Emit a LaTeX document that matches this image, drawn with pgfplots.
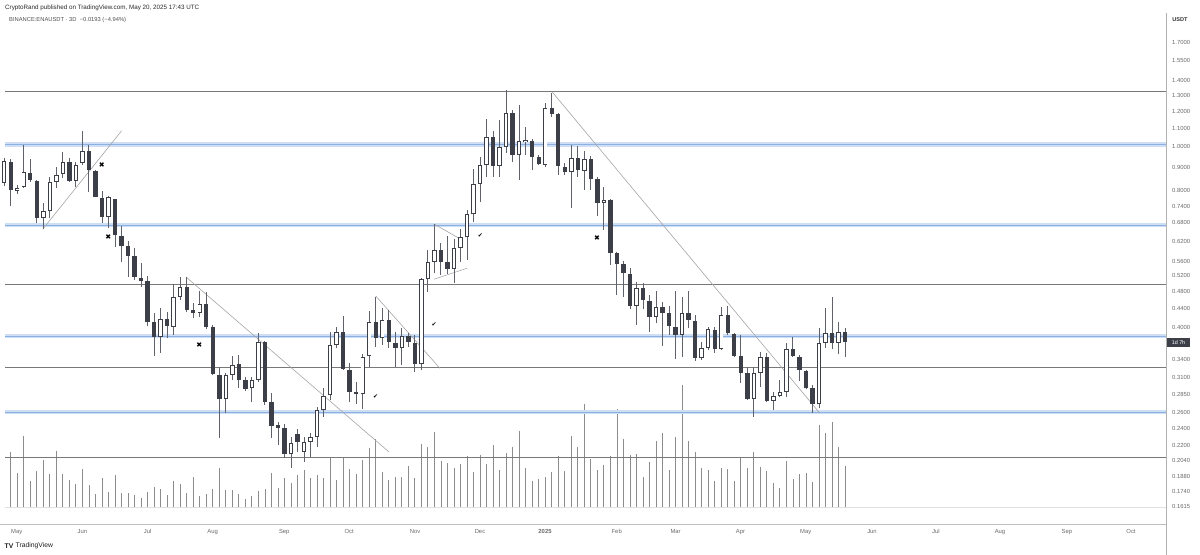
\documentclass[border=0pt]{standalone}
\usepackage{pgfplots}
\pgfplotsset{compat=1.18}
\usepackage{pgfplotstable}
\usepackage{fontspec}
\setmainfont{Liberation Sans}
\newfontfamily\sym{DejaVu Sans}
\definecolor{cdark}{RGB}{60,63,72}
\definecolor{cwick}{RGB}{95,98,106}
\definecolor{cvol}{RGB}{140,140,140}
\definecolor{cband}{RGB}{206,223,245}
\definecolor{ccore}{RGB}{140,176,226}
\definecolor{clevel}{RGB}{120,120,120}
\definecolor{ctrend}{RGB}{165,165,165}
\definecolor{ctick}{RGB}{105,105,105}

% bullish candles: day open high low close
\pgfplotstableread{
d o h l c
-5 0.8330 0.9457 0.8204 0.9314
1 0.7998 0.8246 0.7878 0.8134
4 0.8175 1.0102 0.8121 0.8808
13 0.6974 0.7537 0.6596 0.7226
16 0.7237 0.8601 0.6974 0.8373
19 0.8386 0.9049 0.8121 0.8675
22 0.8719 0.9735 0.8544 0.9253
28 0.8415 0.9281 0.8175 0.9127
31 0.9206 1.0862 0.9127 0.9814
43 0.7020 0.7798 0.6640 0.7747
67 0.3806 0.4416 0.3520 0.4170
73 0.4016 0.4989 0.3851 0.4670
76 0.4678 0.5162 0.4600 0.4907
85 0.4313 0.4822 0.4225 0.4508
97 0.2783 0.3171 0.2588 0.3143
100 0.3143 0.3461 0.3064 0.3306
109 0.2937 0.3107 0.2744 0.3064
112 0.3064 0.3884 0.3038 0.3722
127 0.2105 0.2298 0.1958 0.2223
133 0.2130 0.2291 0.2025 0.2241
136 0.2241 0.2346 0.2076 0.2291
139 0.2298 0.2676 0.2184 0.2632
142 0.2632 0.2937 0.2544 0.2826
145 0.2840 0.3916 0.2768 0.3660
148 0.3660 0.4004 0.3599 0.3904
160 0.2849 0.3496 0.2641 0.3449
163 0.3461 0.4357 0.3268 0.4119
169 0.3787 0.4410 0.3660 0.4155
178 0.3599 0.3984 0.3306 0.3832
187 0.3319 0.5135 0.3224 0.5109
190 0.5109 0.5929 0.4783 0.5587
193 0.5587 0.6765 0.5267 0.5929
202 0.5384 0.6260 0.5007 0.5980
205 0.5980 0.6586 0.5587 0.6343
208 0.6343 0.7263 0.5635 0.7117
211 0.7106 0.8930 0.6845 0.8288
214 0.8288 0.9520 0.7576 0.9127
217 0.9127 1.1510 0.8601 1.0537
223 0.9081 1.1469 0.8601 0.9985
226 0.9985 1.3356 0.9686 1.1866
232 0.9602 1.2376 0.8458 1.0325
235 1.0273 1.1086 0.9602 1.0362
244 0.9127 1.2523 0.9021 1.2171
256 0.8822 1.0102 0.7326 0.9443
262 0.8866 0.9814 0.8039 0.9395
271 0.7537 0.8175 0.6562 0.7641
286 0.4461 0.5047 0.4051 0.4882
295 0.4225 0.4822 0.4086 0.4432
307 0.3851 0.4678 0.3449 0.4299
316 0.3421 0.3722 0.3392 0.3599
319 0.3599 0.4004 0.3568 0.3964
325 0.3581 0.4432 0.3568 0.4262
340 0.2783 0.3278 0.2536 0.3180
343 0.3180 0.3537 0.2961 0.3439
349 0.2758 0.2887 0.2632 0.2826
352 0.2826 0.3064 0.2807 0.2887
355 0.2887 0.3692 0.2816 0.3581
370 0.2712 0.3984 0.2654 0.3692
373 0.3703 0.4410 0.3599 0.3884
379 0.3703 0.4107 0.3496 0.3906
}\bull

% bearish candles: day open high low close
\pgfplotstableread{
d o h l c
-2 0.9281 0.9409 0.7412 0.8039
7 0.8777 0.9409 0.8373 0.8458
10 0.8428 0.8458 0.6800 0.6974
25 0.9253 0.9457 0.8386 0.8415
34 0.9814 1.0102 0.7970 0.8898
37 0.8866 0.8898 0.7747 0.7771
40 0.7731 0.8011 0.6810 0.7020
46 0.7692 0.7692 0.6029 0.6398
49 0.6375 0.6697 0.5587 0.6050
52 0.6050 0.6215 0.5177 0.5760
55 0.5751 0.5989 0.5091 0.5177
58 0.5151 0.5550 0.4921 0.5073
61 0.5073 0.5196 0.4030 0.4107
64 0.4107 0.4306 0.3461 0.3806
70 0.4170 0.4335 0.3787 0.4037
79 0.4907 0.5177 0.4335 0.4372
82 0.4372 0.4524 0.4191 0.4313
88 0.4508 0.4783 0.3964 0.4016
91 0.4016 0.4051 0.3143 0.3159
94 0.3143 0.3278 0.2280 0.2783
103 0.3319 0.3479 0.2937 0.3064
106 0.3064 0.3107 0.2902 0.2927
115 0.3722 0.3735 0.2699 0.2744
118 0.2744 0.2872 0.2280 0.2430
121 0.2439 0.2480 0.2203 0.2399
124 0.2399 0.2451 0.2059 0.2105
130 0.2330 0.2386 0.2130 0.2241
151 0.3904 0.4240 0.3224 0.3235
154 0.3224 0.3346 0.2744 0.2887
157 0.2883 0.3038 0.2712 0.2849
166 0.4119 0.4678 0.3629 0.3787
172 0.4155 0.4372 0.3599 0.3722
175 0.3703 0.3916 0.3278 0.3610
181 0.3832 0.3884 0.3629 0.3722
184 0.3703 0.3851 0.3196 0.3319
196 0.5929 0.6134 0.5222 0.5587
199 0.5570 0.6366 0.5248 0.5384
220 1.0537 1.0862 0.8601 0.9081
229 1.1866 1.2066 0.9281 0.9602
238 1.0325 1.0399 0.8898 0.9520
241 0.9520 0.9602 0.9127 0.9159
247 1.2171 1.3134 1.1663 1.1806
250 1.1806 1.1866 0.8675 0.9081
253 0.9049 0.9206 0.8675 0.8822
259 0.9443 1.0051 0.8601 0.8898
265 0.9395 0.9553 0.8039 0.8488
268 0.8488 0.8601 0.7045 0.7537
274 0.7641 0.7669 0.5494 0.5831
277 0.5831 0.5878 0.4718 0.5522
280 0.5522 0.5615 0.4678 0.5267
283 0.5248 0.5403 0.4387 0.4461
289 0.4882 0.5007 0.4387 0.4600
292 0.4584 0.4718 0.3904 0.4225
298 0.4432 0.4561 0.3641 0.4313
301 0.4299 0.4461 0.3851 0.4030
304 0.4016 0.4822 0.3404 0.3851
310 0.4299 0.4822 0.3984 0.4155
313 0.4140 0.4262 0.3380 0.3421
322 0.3950 0.4004 0.3520 0.3581
328 0.4262 0.4461 0.3851 0.3884
331 0.3871 0.3884 0.3449 0.3461
334 0.3461 0.3851 0.3013 0.3171
337 0.3171 0.3278 0.2768 0.2783
346 0.3439 0.3509 0.2744 0.2758
358 0.3581 0.3818 0.3449 0.3461
361 0.3449 0.3479 0.3053 0.3224
364 0.3213 0.3224 0.2923 0.2937
367 0.2937 0.2987 0.2588 0.2712
376 0.3884 0.4663 0.3581 0.3692
382 0.3906 0.3984 0.3449 0.3713
}\bear

% volume (relative units)
\pgfplotstableread{
d v
-2 55.6
1 34
4 71.6
7 26.6
10 36.3
13 47.3
16 33.3
19 56.3
22 33
25 27.3
28 23
31 38.3
34 22.3
37 13.3
40 29
43 15.6
46 32.3
49 14
52 14.6
55 12.3
58 9.6
61 15
64 20
67 18.3
70 12.3
73 26.3
76 23
79 14
82 30.6
85 11.3
88 13.3
91 18.3
94 39
97 17
100 17
103 13.6
106 8.6
109 11.6
112 16.6
115 18.6
118 34
121 19
124 29
127 24.6
130 32.6
133 37.6
136 29.6
139 32.6
142 29.3
145 50
148 27.3
151 50
154 38.3
157 33.3
160 47
163 59.6
166 68.3
169 35.3
172 27.3
175 30.6
178 30
181 41
184 29.7
187 63
190 60.6
193 75
196 46.3
199 44
202 39.3
205 43.6
208 51.3
211 35
214 52.3
217 43.3
220 62
223 37
226 54
229 60
232 76.6
235 39.6
238 26.6
241 28.3
244 30
247 35.3
250 51.3
253 36.6
256 71.3
259 60.3
262 103
265 48.3
268 37.6
271 42
274 51.3
277 98
280 68
283 52.3
286 53.3
289 30
292 45.3
295 66.6
298 74
301 37
304 70
307 122
310 66.3
313 55.3
316 39
319 37
322 26
325 39.3
328 38
331 26.3
334 50.6
337 39.6
340 55.6
343 40.6
346 36.6
349 24
352 19.3
355 46.3
358 28.6
361 33.3
364 34
367 25.6
370 82.3
373 74.6
376 85.6
379 60.6
382 41.6
}\vol

\pgfplotsset{candlebar/.style={draw=none, mark=none, forget plot,
  error bars/.cd, y dir=plus, y explicit, error mark=none}}

\begin{document}
\begin{tikzpicture}[x=1bp,y=1bp]
\path[use as bounding box] (0,0) rectangle (1200,555);

% volume pane
\begin{axis}[at={(0bp,31bp)}, anchor=south west, scale only axis,
  width=1166bp, height=524bp,
  xmin=-6.93, xmax=529.7, ymin=-16.7, ymax=507.3,
  hide axis, clip=true]
\addplot[draw=black!12, line width=0.6bp] coordinates {(-4.6,0) (529.7,0)};
\addplot[ycomb, draw=cvol, line width=0.8bp, mark=none] table[x=d,y=v] {\vol};
\end{axis}

% price pane
\begin{axis}[at={(0bp,31bp)}, anchor=south west, scale only axis,
  width=1166bp, height=524bp,
  xmin=-6.93, xmax=529.7, ymode=log, ymin=0.1475, ymax=2.109,
  axis line style={draw=none}, major tick length=0pt, minor tick length=0pt,
  xminorticks=false, yminorticks=false,
  xtick={0.74,30.95,61.05,90.96,123.9,153.8,184.1,213.97,243.9,276.9,304.0,333.9,363.9,394.4,423.8,453.3,484.1,513.6},
  xticklabels={May,Jun,Jul,Aug,Sep,Oct,Nov,Dec,\textbf{2025},Feb,Mar,Apr,May,Jun,Jul,Aug,Sep,Oct},
  xticklabel style={font=\fontsize{5.9}{7}\selectfont, text=ctick, anchor=center, yshift=-7.7bp, inner sep=0pt},
  ytick={1.7,1.55,1.4,1.3,1.2,1.1,1.0,0.9,0.8,0.74,0.68,0.62,0.56,0.52,0.48,0.44,0.40,0.34,0.31,0.285,0.26,0.24,0.22,0.204,0.188,0.174,0.1615},
  yticklabels={1.7000,1.5500,1.4000,1.3000,1.2000,1.1000,1.0000,0.9000,0.8000,0.7400,0.6800,0.6200,0.5600,0.5200,0.4800,0.4400,0.4000,0.3400,0.3100,0.2850,0.2600,0.2400,0.2200,0.2040,0.1880,0.1740,0.1615},
  yticklabel pos=right,
  yticklabel style={font=\fontsize{5.9}{7}\selectfont, text=ctick, anchor=west, xshift=6bp, inner sep=0pt},
  clip=true]

% horizontal levels
\addplot[cband, line width=4.2bp] coordinates {(-4.6,1.013) (529.7,1.013)};
\addplot[ccore, line width=0.8bp] coordinates {(-4.6,1.013) (529.7,1.013)};
\addplot[cband, line width=4.2bp] coordinates {(-4.6,0.6731) (529.7,0.6731)};
\addplot[ccore, line width=0.8bp] coordinates {(-4.6,0.6731) (529.7,0.6731)};
\addplot[cband, line width=4.2bp] coordinates {(-4.6,0.383) (529.7,0.383)};
\addplot[ccore, line width=0.8bp] coordinates {(-4.6,0.383) (529.7,0.383)};
\addplot[cband, line width=4.2bp] coordinates {(-4.6,0.2605) (529.7,0.2605)};
\addplot[ccore, line width=0.8bp] coordinates {(-4.6,0.2605) (529.7,0.2605)};
\addplot[clevel, line width=0.8bp] coordinates {(-4.6,1.329) (529.7,1.329)};
\addplot[clevel, line width=0.8bp] coordinates {(-4.6,0.498) (529.7,0.498)};
\addplot[clevel, line width=0.8bp] coordinates {(-4.6,0.3268) (529.7,0.3268)};
\addplot[clevel, line width=0.8bp] coordinates {(-4.6,0.2070) (529.7,0.2070)};

% trend lines
\addplot[ctrend, line width=0.6bp] coordinates {(12.72,0.6586) (49.08,1.0862)};
\addplot[ctrend, line width=0.6bp] coordinates {(78.67,0.5169) (172.1,0.2126)};
\addplot[ctrend, line width=0.6bp] coordinates {(165.97,0.4694) (195.56,0.3251)};
\addplot[ctrend, line width=0.6bp] coordinates {(192.8,0.6765) (205.7,0.6237)};
\addplot[ctrend, line width=0.6bp] coordinates {(192.8,0.5109) (208.0,0.5403)};
\addplot[ctrend, line width=0.6bp] coordinates {(247.1,1.3242) (370.4,0.2588)};

% wicks
\addplot[candlebar, error bar style={draw=cwick, line width=0.9bp}]
  table[x=d, y=l, y error plus expr=\thisrow{h}-\thisrow{l}] {\bull};
\addplot[candlebar, error bar style={draw=cwick, line width=0.9bp}]
  table[x=d, y=l, y error plus expr=\thisrow{h}-\thisrow{l}] {\bear};
% bodies
\addplot[candlebar, error bar style={draw=cdark, line width=4.4bp}]
  table[x=d, y=c, y error plus expr=\thisrow{o}-\thisrow{c}] {\bear};
\addplot[candlebar, error bar style={draw=cdark, line width=4.4bp}]
  table[x=d, y=o, y error plus expr=\thisrow{c}-\thisrow{o}] {\bull};
\addplot[candlebar, error bar style={draw=white, line width=2.6bp, shorten <=0.9bp, shorten >=0.9bp}]
  table[x=d, y=o, y error plus expr=\thisrow{c}-\thisrow{o}] {\bull};

% annotations
\addplot[draw=none, mark=none, nodes near coords={\sym\fontsize{7}{7}\selectfont ✖},
  every node near coord/.append style={anchor=center, inner sep=0pt, text=black}]
  coordinates {(39.88,0.9127) (42.91,0.6324) (84.79,0.3654) (267.9,0.6292)};
\addplot[draw=none, mark=none, nodes near coords={\sym\fontsize{6}{6}\selectfont ✔},
  every node near coord/.append style={anchor=center, inner sep=0pt, text=black}]
  coordinates {(214.1,0.6382) (192.9,0.4065) (165.97,0.2816)};
\end{axis}

% frame lines
\draw[black!25, line width=0.8bp] (0,31) -- (1166,31);
\draw[black!30, line width=0.8bp] (1166,0) -- (1166,542);

% texts
\node[anchor=west, inner sep=0pt, text={rgb,255:red,40;green,40;blue,40}, font=\fontsize{6.3}{7}\selectfont] at (5,547.5) {CryptoRand published on TradingView.com, May 20, 2025 17:43 UTC};
\node[anchor=west, inner sep=0pt, text={rgb,255:red,80;green,80;blue,80}, font=\fontsize{5.8}{7}\selectfont] at (9,534.5) {BINANCE:ENAUSDT · 3D \ −0.0193 (−4.94\%)};
\node[anchor=center, inner sep=0pt, text={rgb,255:red,50;green,50;blue,50}, font=\fontsize{5.6}{7}\selectfont\bfseries] at (1180,535) {USDT};
\node[anchor=center, fill=cdark, text=white, inner sep=0pt, minimum width=23bp, minimum height=9bp, font=\fontsize{5.4}{6}\selectfont] at (1178.5,212.5) {1d 7h};
\node[anchor=west, inner sep=0pt, text={rgb,255:red,30;green,30;blue,30}, font=\fontsize{6.8}{7}\selectfont\bfseries] at (4.5,9) {TV};
\node[anchor=west, inner sep=0pt, text={rgb,255:red,30;green,30;blue,30}, font=\fontsize{6.8}{7}\selectfont] at (15.5,9) {TradingView};
\end{tikzpicture}
\end{document}
